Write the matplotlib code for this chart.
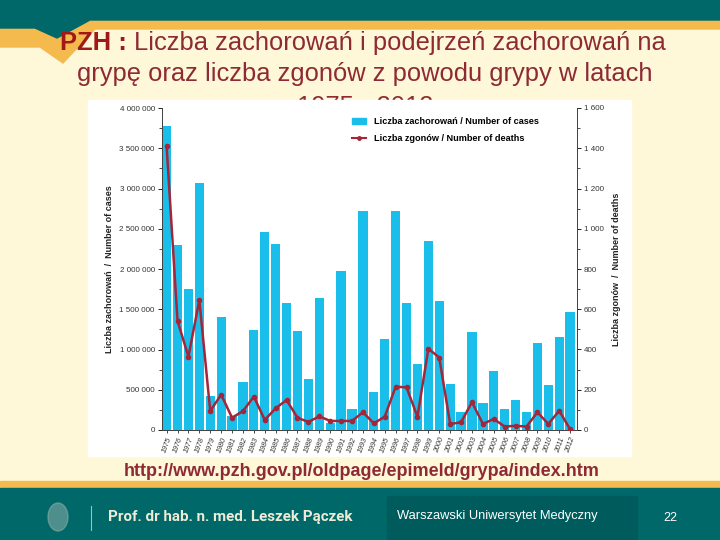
import matplotlib
matplotlib.use("Agg")
import matplotlib.pyplot as plt
from matplotlib.patches import Polygon, Rectangle, Ellipse
from matplotlib.lines import Line2D
from matplotlib.ticker import FuncFormatter, MultipleLocator

years = list(range(1975, 2013))
cases = [3776000, 2294000, 1755000, 3064000, 422000, 1408000, 180000, 596000, 1242000, 2460000,
         2310000, 1582000, 1226000, 630000, 1644000, 87000, 1975000, 260000, 2720000, 472000,
         1130000, 2720000, 1580000, 820000, 2350000, 1600000, 575000, 228000, 1220000, 340000,
         737000, 260000, 377000, 228000, 1085000, 555000, 1155000, 1462000]
deaths = [1411, 543, 364, 646, 94, 176, 61, 94, 166, 50,
          108, 149, 61, 40, 68, 45, 45, 45, 88, 33,
          66, 215, 212, 66, 404, 360, 30, 38, 139, 30,
          55, 17, 21, 17, 88, 30, 96, 3]

title_l1_a = "PZH : "
title_l1_b = "Liczba zachorowań i podejrzeń zachorowań na"
title_l2 = "grypę oraz liczba zgonów z powodu grypy w latach"
title_l3 = "1975 - 2012"
url = "http://www.pzh.gov.pl/oldpage/epimeld/grypa/index.htm"
footer_name = "Prof. dr hab. n. med. Leszek Pączek"
footer_uni = "Warszawski Uniwersytet Medyczny"
page_no = "22"
leg_cases = "Liczba zachorowań / Number of cases"
leg_deaths = "Liczba zgonów / Number of deaths"
ylab_left = "Liczba zachorowań  /  Number of cases"
ylab_right = "Liczba zgonów  /  Number of deaths"

W, H = 720, 540
fig = plt.figure(figsize=(7.2, 5.4), dpi=100)
bg = fig.add_axes([0, 0, 1, 1])
bg.set_xlim(0, W)
bg.set_ylim(H, 0)
bg.axis("off")

cream = "#FEF8D8"
teal = "#006868"
orange = "#F5BA4E"
maroon = "#8E2A35"

bg.add_patch(Rectangle((0, 0), W, H, color=cream, zorder=0))
# top decoration
bg.add_patch(Polygon([(0, 18), (720, 18), (720, 29), (95, 29), (63, 63), (40, 47), (0, 47)],
                     closed=True, color=orange, zorder=1))
bg.add_patch(Polygon([(0, 0), (720, 0), (720, 20), (90, 20), (57, 38), (35, 28), (0, 28)],
                     closed=True, color=teal, zorder=2))
# bottom footer
bg.add_patch(Rectangle((0, 481), W, 8, color=orange, zorder=1))
bg.add_patch(Rectangle((0, 488), W, 52, color=teal, zorder=2))
bg.add_patch(Rectangle((387, 496), 250, 44, color="#005C5C", zorder=3))
bg.plot([91, 91], [506, 530], color="#9FBFBF", lw=0.8, zorder=4)
bg.add_patch(Ellipse((58, 517), 20, 28, color="#8FB0AC", zorder=4, alpha=0.55))

# title
tfont = dict(family="Liberation Sans", fontsize=18.4)
t1a = bg.text(60, 43, title_l1_a, color="#A01818", fontweight="bold", va="center", ha="left",
              zorder=5, **tfont)
fig.canvas.draw()
bb = t1a.get_window_extent()
x_after = bb.x1
bg.annotate(title_l1_b, xy=(x_after, 0), xycoords=("figure pixels", "data"),
            xytext=(0, 43), textcoords=("offset points", "data"),
            color=maroon, va="center", ha="left", zorder=5, **tfont)
bg.text(365, 74, title_l2, color=maroon, va="center", ha="center", zorder=5, **tfont)
t3 = bg.text(365, 107, title_l3, color=maroon, va="center", ha="center", zorder=5, **tfont)
clip_rect = Rectangle((0, 0), W, 100, transform=bg.transData, visible=False)
bg.add_patch(clip_rect)
t3.set_clip_path(clip_rect)
t3.set_clip_on(True)

# white chart box
bg.add_patch(Rectangle((88, 100), 543, 356, color="white", zorder=6))

bg.text(362, 472, url, color=maroon, fontweight="bold", va="center", ha="center",
        family="Liberation Sans", fontsize=13, zorder=7)
bg.text(108, 517, footer_name, color="#EDEBD5", fontweight="bold", va="center", ha="left",
        family="Roboto", fontsize=10.9, zorder=7)
bg.text(397, 516, footer_uni, color="white", va="center", ha="left",
        family="Liberation Sans", fontsize=9.3, zorder=7)
bg.text(670, 518, page_no, color="white", va="center", ha="center",
        family="Liberation Sans", fontsize=9, zorder=7)

# chart
x0, x1, y0, y1 = 161.7, 577.0, 108.0, 430.0
ax = fig.add_axes([x0 / W, 1 - y1 / H, (x1 - x0) / W, (y1 - y0) / H])
ax.set_zorder(10)
ax2 = ax.twinx()
ax2.set_zorder(11)
ax2.patch.set_visible(False)

pos = list(range(len(years)))
bar_c = "#19BEEB"
line_c = "#A3263A"
ax.bar(pos, cases, width=0.85, color=bar_c, zorder=2)
ax2.plot(pos, deaths, color=line_c, lw=1.8, marker="o", ms=3, zorder=3)

ax.set_xlim(-0.45, 37.63)
ax.set_ylim(0, 4000000)
ax2.set_ylim(0, 1600)

tick_col = "#333333"
for a in (ax, ax2):
    a.spines["top"].set_visible(False)
    for s in ("left", "right", "bottom"):
        a.spines[s].set_color("#444444")
        a.spines[s].set_linewidth(0.7)

ax.yaxis.set_major_locator(MultipleLocator(500000))
ax.yaxis.set_minor_locator(MultipleLocator(250000))
ax.yaxis.set_major_formatter(FuncFormatter(lambda v, p: f"{int(v):,}".replace(",", " ")))
ax2.yaxis.set_major_locator(MultipleLocator(200))
ax2.yaxis.set_minor_locator(MultipleLocator(100))
ax2.yaxis.set_major_formatter(FuncFormatter(lambda v, p: f"{int(v):,}".replace(",", " ")))

ax.tick_params(axis="y", which="major", labelsize=5.8, labelcolor=tick_col, length=3, width=0.6, pad=2)
ax.tick_params(axis="y", which="minor", length=2, width=0.5)
ax2.tick_params(axis="y", which="major", labelsize=5.8, labelcolor=tick_col, length=3, width=0.6, pad=2)
ax2.tick_params(axis="y", which="minor", length=2, width=0.5)

ax.set_xticks(pos)
ax.set_xticklabels([str(y) for y in years], rotation=70, ha="right", va="top",
                   rotation_mode="anchor", fontsize=5.2, color=tick_col, fontstyle="italic")
ax.tick_params(axis="x", length=2.5, width=0.5, pad=2)

for t in ax.get_yticklabels() + ax2.get_yticklabels() + ax.get_xticklabels():
    t.set_family("Liberation Sans")

ax.set_ylabel(ylab_left, fontsize=6.5, fontweight="bold", family="Liberation Sans",
              color="#222222", labelpad=4)
ax2.set_ylabel(ylab_right, fontsize=6.5, fontweight="bold", family="Liberation Sans",
               color="#222222", labelpad=6, rotation=90)

handles = [Rectangle((0, 0), 1, 1, color=bar_c),
           Line2D([0], [0], color=line_c, lw=1.5, marker="o", ms=2.5)]
leg = ax2.legend(handles, [leg_cases, leg_deaths], loc="upper left",
                 bbox_to_anchor=(0.44, 0.995), frameon=False,
                 prop=dict(family="Liberation Sans", weight="bold", size=6.6),
                 handlelength=1.6, handleheight=0.6, labelspacing=0.9, borderpad=0.3,
                 handletextpad=0.8)

fig.savefig("out.png", dpi=100)
